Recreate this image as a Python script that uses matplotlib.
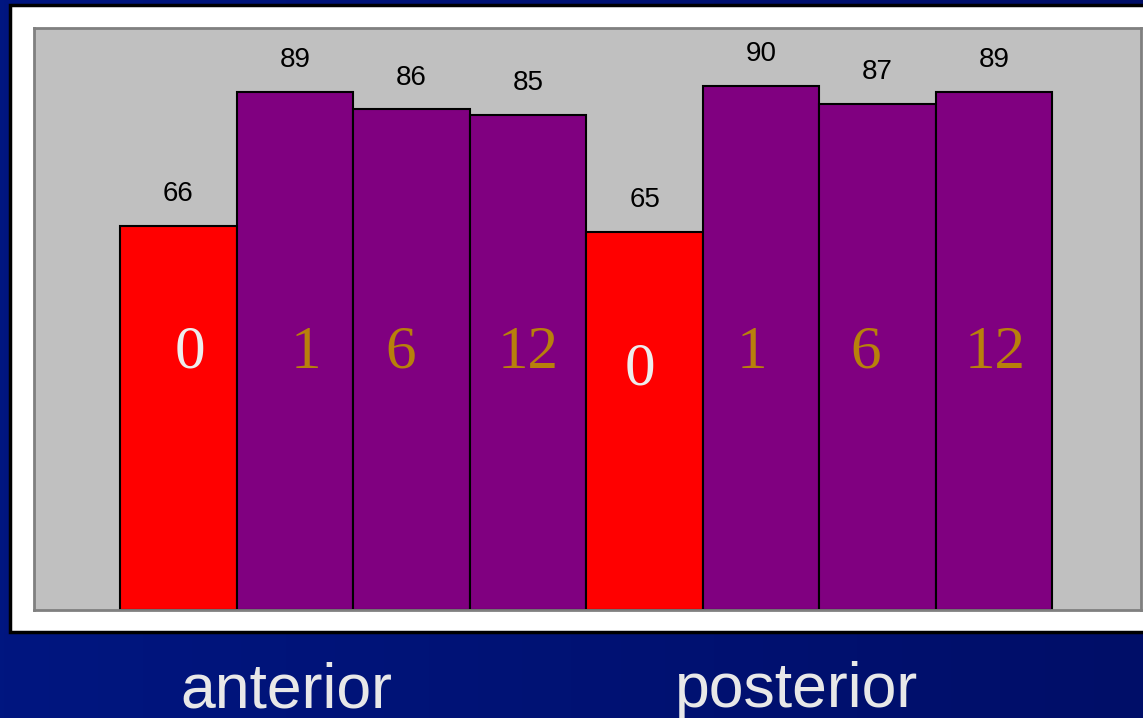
import numpy as np
import matplotlib
matplotlib.use("Agg")
import matplotlib.pyplot as plt
from matplotlib.patches import Rectangle

# ---- data ----
groups = ["anterior", "posterior"]
months = ["0", "1", "6", "12", "0", "1", "6", "12"]
values = [66, 89, 86, 85, 65, 90, 87, 89]
bar_colors = ["#FF0000", "#800080", "#800080", "#800080",
              "#FF0000", "#800080", "#800080", "#800080"]
inner_colors = ["#EDEDED", "#B8800B", "#B8800B", "#B8800B",
                "#EDEDED", "#B8800B", "#B8800B", "#B8800B"]
inner_dx = [0.10, 0.09, -0.09, 0.0, -0.04, -0.08, -0.10, 0.01]
inner_y = [44.2, 44.2, 44.2, 44.2, 41.3, 44.2, 44.2, 44.2]

W, H = 1143, 718
fig = plt.figure(figsize=(W / 100, H / 100), dpi=100)

# background gradient
bg = fig.add_axes([0, 0, 1, 1], zorder=-5)
bg.set_axis_off()
grad = np.linspace(0, 1, 256)[None, :]
c1 = np.array([0, 22, 128]) / 255
c2 = np.array([0, 14, 104]) / 255
img = c1[None, None, :] * (1 - grad[..., None]) + c2[None, None, :] * grad[..., None]
bg.imshow(img, aspect="auto", extent=[0, 1, 0, 1], zorder=0)
bg.set_xlim(0, 1)
bg.set_ylim(0, 1)

# white panel with black border
panel = Rectangle((10 / W, 1 - 632 / H), 1.2, (632 - 5) / H,
                  transform=bg.transAxes, facecolor="white",
                  edgecolor="black", linewidth=2.5, zorder=1, clip_on=False)
bg.add_patch(panel)

# plot area
left, right, top, bottom = 34, 1141, 28, 610
ax = fig.add_axes([left / W, 1 - bottom / H, (right - left) / W, (bottom - top) / H], zorder=1)
ax.set_facecolor("#C0C0C0")
for s in ax.spines.values():
    s.set_color("#808080")
    s.set_linewidth(2)
ax.set_xticks([])
ax.set_yticks([])

x = np.arange(len(values))
ax.bar(x, values, width=1.0, color=bar_colors, edgecolor="black", linewidth=1.5, zorder=2)
ax.set_xlim(-1.24, 8.26)
ax.set_ylim(0, 100)

for xi, v in zip(x, values):
    ax.annotate(str(v), (xi, v), xytext=(0, 23), textcoords="offset points",
                ha="center", va="center", fontsize=20, family="Liberation Sans",
                color="black")

for xi, lab, c, dx, yy in zip(x, months, inner_colors, inner_dx, inner_y):
    ax.text(xi + dx, yy, lab, ha="center", va="center", fontsize=44,
            family="Liberation Serif", color=c, zorder=3)

# group labels
group_x = [286 / W, 797 / W]
for gx, g in zip(group_x, groups):
    fig.text(gx, 1 - 707 / H, g, ha="center", va="baseline", fontsize=45,
             family="Liberation Sans", color="#E8E8E8")

fig.savefig("out.png", dpi=100)
